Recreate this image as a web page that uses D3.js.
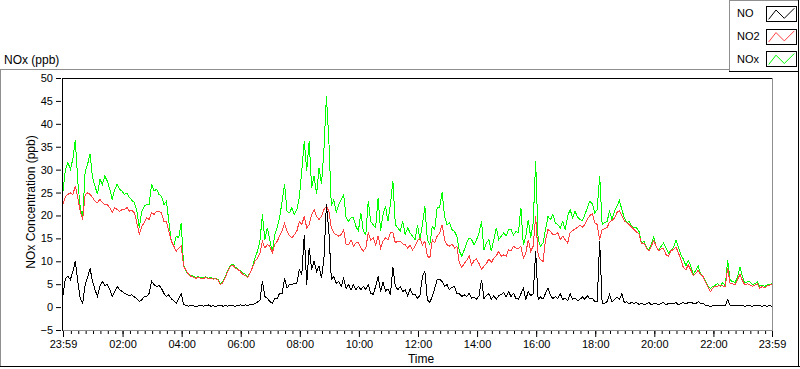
<!DOCTYPE html>
<html>
<head>
<meta charset="utf-8">
<script src="https://cdn.jsdelivr.net/npm/d3@7"></script>
<style>
    body { margin: 0; background: #fff; }
    svg { display: block; font-family: "Liberation Sans", Arial, sans-serif; }
</style>
</head>
<body>
<svg id="chart" width="800" height="369"></svg>
<script>
// data: one reading every 5 minutes, 23:59 to 23:59 next day
const startTime = new Date(2020, 0, 1, 23, 59)
const stepMinutes = 5
const seriesNames = ["NO", "NO2", "NOx"]
const yTicks = [-5, 0, 5, 10, 15, 20, 25, 30, 35, 40, 45, 50]

const noValues = [
    2.7, 6.3, 6.7, 6.0, 7.8, 10.0, 5.6, 1.9, 0.8, 4.9,
    6.5, 8.4, 5.6, 3.8, 2.3, 4.5, 5.6, 4.7, 4.9, 3.8,
    2.3, 3.4, 4.5, 3.8, 3.4, 3.0, 2.8, 2.5, 2.7, 2.2,
    1.8, 1.2, 1.6, 2.3, 2.3, 3.0, 5.6, 4.9, 4.5, 4.7,
    4.1, 3.0, 2.3, 2.7, 1.8, 1.4, 0.8, 1.9, 3.0, 0.6,
    0.3, 0.2, 0.4, 0.3, 0.1, 0.3, 0.4, 0.2, 0.3, 0.5,
    0.2, 0.3, 0.1, 0.3, 0.4, 0.2, 0.3, 0.2, 0.4, 0.3,
    0.2, 0.3, 0.5, 0.3,
    0.5, 0.3, 0.6, 0.5, 0.8, 1.1, 1.4, 5.6, 2.3, 1.9,
    1.2, 0.8, 1.9, 1.9, 3.0, 3.0, 6.3, 4.1, 4.9, 4.9,
    5.2, 5.2, 8.2, 7.1, 15.8, 4.9, 12.9, 8.2, 10.0, 7.8,
    8.9, 6.3, 10.7, 22.4, 16.6, 6.0, 6.7, 5.2, 5.6, 4.5,
    6.3, 4.1, 4.9, 3.8, 4.9, 3.8, 4.5, 3.8, 4.5, 3.8,
    4.9, 3.0, 2.8, 4.5, 6.7, 3.4, 5.4, 3.5, 4.0, 2.7,
    8.7, 4.5, 3.8, 4.5, 3.4, 3.8, 2.5, 4.1, 2.7, 2.8,
    1.9, 2.5, 6.7,
    7.8, 1.6, 1.0, 2.3, 4.1, 6.0, 6.1, 5.6, 4.5, 4.9,
    3.8, 4.3, 4.5, 3.0, 2.9, 2.3, 2.7, 2.3, 3.0, 1.9,
    2.2, 1.7, 2.5, 6.0, 1.9, 2.5, 2.9, 1.7, 2.5, 1.7,
    2.5, 2.7, 3.2, 2.3, 3.4, 2.3, 3.0, 1.9, 1.7, 2.9,
    4.1, 1.7, 3.4, 2.5, 2.9, 12.2, 1.7, 2.2, 1.7, 3.0,
    4.1, 2.5, 1.9, 2.3, 1.9, 2.9, 1.7, 1.9, 1.4, 2.9,
    1.7, 1.9, 1.4, 1.7, 2.2, 1.7, 2.5, 1.8, 1.9, 1.2,
    1.2, 14.4, 0.8,
    0.8, 1.2, 2.7, 1.2, 1.6, 2.2, 1.7, 2.9, 1.0, 1.2,
    0.7, 1.1, 0.8, 1.0, 0.6, 0.8, 0.6, 0.7, 1.0, 0.5,
    0.8, 0.7, 0.6, 0.8, 1.0, 0.5, 0.8, 0.7, 0.8, 1.0,
    0.5, 0.8, 1.0, 0.7, 1.0, 1.1, 0.8, 0.7, 1.2, 0.8,
    0.8, 0.4, 0.3, 0.1, 0.3, 0.3, 0.4, 0.3, 0.3, 0.3,
    1.6, 0.3, 0.3, 0.4, 0.3, 0.3, 0.3, 0.2, 0.3, 0.3,
    0.2, 0.3, 0.3, 0.3, 0.2, 0.3, 0.2, 0.3, 0.2
]

const no2Values = [
    22.4, 24.2, 24.6, 24.9, 24.6, 26.4, 23.9, 20.9, 19.1, 24.6,
    24.9, 24.6, 23.9, 23.1, 22.8, 23.5, 22.8, 22.4, 22.4, 21.7,
    20.6, 21.7, 21.3, 20.9, 21.3, 21.3, 21.7, 20.9, 21.1, 20.6,
    18.4, 15.8, 17.6, 18.4, 19.5, 19.1, 20.6, 20.2, 20.9, 20.9,
    20.6, 18.7, 18.7, 16.6, 14.4, 13.3, 12.2, 12.9, 13.3, 8.9,
    8.1, 7.1, 6.7, 6.5, 6.3, 6.5, 6.3, 6.2, 6.5, 6.2,
    6.3, 6.1, 6.2, 5.9, 4.9, 5.4, 6.5, 7.9, 8.9, 9.1,
    8.5, 8.2, 7.8, 7.1,
    6.9, 6.5, 7.4, 8.7, 10.0, 10.7, 11.8, 14.4, 12.9, 13.6,
    13.3, 11.8, 13.6, 14.4, 15.5, 16.6, 18.3, 16.6, 15.6, 15.1,
    15.8, 16.6, 18.7, 18.0, 19.8, 17.3, 18.0, 20.2, 21.3, 19.8,
    19.1, 19.8, 21.3, 22.0, 20.9, 17.3, 16.2, 15.8, 15.5, 15.8,
    16.9, 13.6, 13.6, 14.7, 13.3, 14.0, 14.0, 12.9, 12.2, 12.9,
    16.2, 14.7, 15.1, 13.6, 15.5, 12.9, 14.4, 15.1, 14.7, 16.2,
    16.2, 14.0, 14.4, 14.4, 13.8, 13.6, 12.9, 13.5, 12.5, 13.3,
    14.5, 15.1, 13.6,
    14.4, 11.1, 10.7, 14.7, 14.0, 15.5, 16.2, 18.0, 14.7, 13.6,
    13.3, 13.8, 12.9, 13.3, 9.6, 8.7, 9.5, 10.2, 11.1, 9.2,
    10.2, 10.5, 9.5, 8.3, 8.9, 9.5, 10.5, 9.7, 10.7, 11.2,
    12.2, 11.1, 11.4, 11.1, 12.5, 12.2, 13.3, 12.9, 12.7, 13.3,
    10.7, 11.8, 14.7, 12.2, 13.3, 19.8, 11.4, 10.3, 10.0, 14.7,
    16.9, 16.5, 15.8, 15.8, 16.2, 14.7, 15.5, 14.7, 14.0, 16.2,
    16.7, 17.0, 17.4, 17.8, 17.5, 18.0, 19.2, 20.0, 20.4, 18.4,
    18.0, 14.7, 16.9,
    17.1, 17.4, 18.5, 18.9, 19.4, 20.6, 21.1, 20.0, 18.8, 18.4,
    18.0, 17.4, 16.9, 16.4, 15.9, 13.8, 14.0, 12.9, 12.2, 13.3,
    14.6, 13.1, 12.3, 12.7, 12.7, 11.4, 11.1, 12.4, 12.5, 13.1,
    11.8, 10.3, 8.6, 8.1, 9.2, 8.1, 6.8, 7.3, 8.0, 7.1,
    6.7, 5.4, 4.4, 3.4, 4.2, 4.6, 4.6, 4.8, 4.6, 4.5,
    8.5, 5.1, 5.1, 4.9, 6.0, 7.1, 5.8, 4.8, 5.1, 4.9,
    4.5, 4.8, 5.1, 4.1, 4.5, 4.2, 4.6, 4.8, 4.9
]

const noxValues = [
    25.3, 30.1, 31.5, 30.1, 32.3, 36.5, 27.5, 21.7, 19.5, 29.7,
    31.2, 33.4, 28.2, 26.4, 24.6, 27.9, 26.8, 28.6, 27.5, 25.7,
    23.5, 25.7, 26.8, 25.7, 25.3, 24.6, 24.9, 23.9, 23.3, 22.8,
    20.9, 17.3, 20.9, 22.0, 22.4, 22.4, 26.8, 25.3, 25.7, 24.6,
    24.2, 22.4, 23.1, 18.7, 14.4, 13.3, 15.5, 15.1, 18.4, 9.2,
    7.8, 7.1, 6.9, 6.7, 6.5, 6.7, 6.3, 6.5, 6.6, 6.3,
    6.5, 6.2, 6.3, 6.0, 5.0, 5.6, 6.7, 8.1, 9.1, 9.4,
    8.7, 8.4, 7.9, 7.4,
    7.2, 6.7, 7.4, 8.9, 10.7, 12.2, 14.4, 20.2, 14.7, 17.3,
    14.7, 11.8, 15.8, 17.3, 19.5, 23.1, 26.8, 20.9, 20.6, 21.7,
    20.2, 21.3, 23.9, 29.7, 36.3, 29.7, 36.3, 26.0, 28.6, 24.6,
    30.4, 26.8, 34.4, 46.1, 36.3, 22.0, 23.5, 20.6, 22.4, 23.5,
    24.6, 19.5, 18.7, 19.5, 19.5, 17.6, 16.6, 20.6, 16.6, 15.8,
    23.1, 18.7, 18.0, 17.3, 23.9, 16.6, 20.2, 22.0, 18.7, 22.4,
    27.5, 18.0, 17.3, 16.6, 18.7, 15.8, 17.3, 16.2, 15.5, 14.7,
    18.0, 14.7, 18.0,
    22.0, 14.7, 13.6, 17.6, 16.9, 21.7, 21.7, 25.0, 19.8, 18.0,
    18.4, 16.9, 16.5, 15.5, 12.2, 11.1, 12.5, 14.0, 15.1, 14.7,
    13.6, 14.7, 16.2, 18.7, 12.5, 14.0, 14.7, 12.2, 14.7, 17.3,
    14.7, 15.5, 16.2, 15.5, 16.9, 16.9, 15.8, 16.5, 16.3, 21.7,
    13.6, 15.5, 19.1, 15.1, 18.4, 31.9, 14.7, 13.3, 14.0, 16.9,
    19.8, 19.1, 20.2, 18.4, 18.0, 17.3, 18.7, 16.9, 19.8, 21.3,
    19.5, 20.9, 19.7, 19.1, 18.9, 20.2, 21.7, 23.1, 22.6, 20.5,
    21.3, 28.7, 18.0,
    18.4, 18.7, 20.9, 19.1, 20.9, 22.0, 23.3, 21.3, 19.5, 18.5,
    18.7, 17.6, 17.3, 17.3, 16.5, 14.0, 14.4, 13.1, 12.5, 13.8,
    15.3, 13.1, 12.5, 13.3, 14.0, 12.9, 11.7, 12.4, 13.1, 14.6,
    13.1, 11.4, 10.5, 9.0, 10.2, 9.0, 7.1, 8.0, 9.0, 7.3,
    6.8, 5.6, 4.5, 4.1, 4.5, 4.8, 5.1, 4.6, 5.4, 4.6,
    10.3, 5.8, 5.6, 5.4, 6.5, 8.7, 6.7, 5.2, 5.5, 5.5,
    4.9, 5.1, 5.5, 4.6, 4.8, 4.5, 4.8, 4.9, 5.1
]

// styles
const seriesColors = { "NO": "#000000", "NO2": "#ff4040", "NOx": "#00ff00" }
const frameGray = "#8f8f8f"
const plotBox = { left: 62, right: 772, top: 78, bottom: 330 }

const svg = d3.select("#chart")

const times = noValues.map((d, i) => d3.timeMinute.offset(startTime, i * stepMinutes))
const endTime = times[times.length - 1]

// scales
const xScale = d3.scaleTime()
    .domain([startTime, endTime])
    .range([plotBox.left + 1, plotBox.right])
const yScale = d3.scaleLinear()
    .domain([d3.min(yTicks), d3.max(yTicks)])
    .range([plotBox.bottom, plotBox.top])

function hline(x1, x2, y, color) {
    svg.append("line").attr("x1", x1).attr("x2", x2).attr("y1", y).attr("y2", y)
        .attr("stroke", color).attr("stroke-width", 1).attr("shape-rendering", "crispEdges")
}
function vline(x, y1, y2, color) {
    svg.append("line").attr("x1", x).attr("x2", x).attr("y1", y1).attr("y2", y2)
        .attr("stroke", color).attr("stroke-width", 1).attr("shape-rendering", "crispEdges")
}

// outer panel
hline(0, 730, 69.5, frameGray)
vline(0.5, 69, 367, frameGray)
hline(0, 800, 366.5, "#000")
vline(798.5, 72, 367, "#000")

svg.append("text")
    .attr("x", 4).attr("y", 63.5)
    .attr("font-size", 12)
    .text("NOx (ppb)")

// legend
hline(729, 799, 0.5, frameGray)
vline(729.5, 0, 72, frameGray)
hline(729, 799, 71.5, "#000")
vline(798.5, 0, 72, "#000")

const legendRows = svg.append("g").selectAll("g")
    .data(seriesNames)
    .enter().append("g")
    .attr("transform", (d, i) => "translate(0," + (i * 22.6) + ")")

legendRows.append("text")
    .attr("x", 737).attr("y", 17.4)
    .attr("font-size", 11)
    .text(d => d)

legendRows.append("rect")
    .attr("x", 766.5).attr("y", 6.5)
    .attr("width", 30).attr("height", 15)
    .attr("fill", "#fff").attr("stroke", "#000")
    .attr("shape-rendering", "crispEdges")

legendRows.append("polyline")
    .attr("points", "768.7,19.3 776,10 784.3,18.3 794.3,8.3")
    .attr("fill", "none")
    .attr("stroke", d => seriesColors[d])

// plot frame
hline(plotBox.left, plotBox.right + 1, plotBox.top + 0.5, "#000")
vline(plotBox.left + 0.5, plotBox.top, plotBox.bottom + 1, "#000")
vline(plotBox.right + 0.5, plotBox.top, plotBox.bottom + 1, frameGray)
hline(plotBox.left + 1, plotBox.right + 1, plotBox.bottom + 0.5, frameGray)

// series, NOx under NO2 under NO
const seriesValues = { "NO": noValues, "NO2": no2Values, "NOx": noxValues }
const lineGenerator = d3.line()
    .x((d, i) => xScale(times[i]))
    .y(d => yScale(d))

const plotArea = svg.append("g")
seriesNames.slice().reverse().forEach(name => {
    plotArea.append("path")
        .attr("d", lineGenerator(seriesValues[name]))
        .attr("fill", "none")
        .attr("stroke", seriesColors[name])
        .attr("stroke-width", 1)
        .attr("shape-rendering", "crispEdges")
})

// y axis
const yAxis = svg.append("g")
    .attr("transform", "translate(" + (plotBox.left - 1) + ",0)")
    .call(d3.axisLeft(yScale).tickValues(yTicks).tickSize(5).tickPadding(3))
yAxis.select(".domain").remove()
yAxis.selectAll("text").attr("font-size", 11).attr("fill", "#000").style("font-family", "inherit")

svg.append("text")
    .attr("transform", "translate(35,202) rotate(-90)")
    .attr("text-anchor", "middle")
    .attr("font-size", 12)
    .text("NOx Concentration (ppb)")

// x axis: major every 2 h plus the two ends, minor every 15 min
const majorTicks = [startTime]
    .concat(d3.timeHour.every(2).range(d3.timeMinute.offset(startTime, 30), d3.timeMinute.offset(endTime, -30)))
    .concat([endTime])
const minorTicks = d3.timeMinute.every(15).range(d3.timeMinute.offset(startTime, 5), d3.timeMinute.offset(endTime, -5))

const xMinor = svg.append("g")
    .attr("transform", "translate(0," + (plotBox.bottom + 1) + ")")
    .call(d3.axisBottom(xScale).tickValues(minorTicks).tickSize(3).tickFormat(""))
xMinor.select(".domain").remove()

const xAxis = svg.append("g")
    .attr("transform", "translate(0," + (plotBox.bottom + 1) + ")")
    .call(d3.axisBottom(xScale).tickValues(majorTicks).tickSize(6).tickPadding(3)
        .tickFormat(d3.timeFormat("%H:%M")))
xAxis.select(".domain").remove()
xAxis.selectAll("text").attr("font-size", 11).attr("fill", "#000").style("font-family", "inherit")

svg.append("text")
    .attr("x", 421).attr("y", 363)
    .attr("text-anchor", "middle")
    .attr("font-size", 12)
    .text("Time")
</script>
</body>
</html>
